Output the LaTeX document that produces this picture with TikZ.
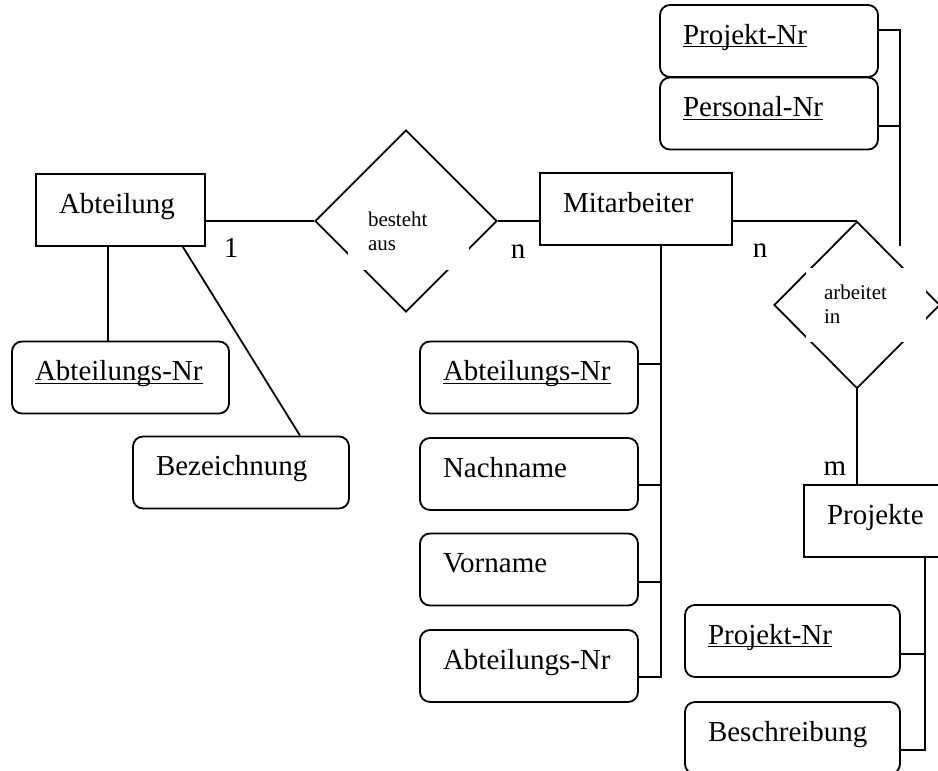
\documentclass[tikz,border=0pt]{standalone}
\usepackage{fontspec}
\setmainfont{Liberation Serif}
\usepackage{tikz}
\usetikzlibrary{shapes.geometric}

\newcommand{\schluessel}[1]{\underline{\smash{#1}}}

\begin{document}
\begin{tikzpicture}[x=0.5pt, y=-0.5pt, line width=0.9pt,
        entity/.style={draw, rectangle, inner xsep=11.5pt, inner ysep=0pt,
                       text height=19.5pt, text depth=16.5pt, align=left,
                       text width=#1, font=\fontsize{14.5}{17}\selectfont},
        attr/.style={entity=#1, rounded corners=5pt},
        rel/.style={draw, diamond, inner sep=0pt},
        rellabel/.style={fill=white, inner ysep=0pt, align=left,
                         font=\fontsize{10.5}{12}\selectfont},
        card/.style={anchor=base, font=\fontsize{14.5}{17}\selectfont}]
        \useasboundingbox (0,0) rectangle (938,771);

        \node [entity=61.5pt] (abt)   at (120.5,210)   {Abteilung};                     %
        \node [attr=85.5pt]   (abtnr) at (120.5,377.5) {\schluessel{Abteilungs-Nr}};    %
        \node [attr=85pt]     (bez)   at (241,472.5)   {Bezeichnung};                   %

        \node [rel, minimum width=91pt, minimum height=91pt] (besteht) at (406,221) {};
        \node [rellabel, text width=40.5pt, inner xsep=10pt, text height=13pt,
               text depth=22pt] (bestehtlbl) at (408.5,235) {besteht\\aus};

        \node [entity=73pt] (mit) at (636,209)   {Mitarbeiter};                         %
        \node [attr=86pt]   (ma1) at (529,377.5) {\schluessel{Abteilungs-Nr}};          %
        \node [attr=86pt]   (ma2) at (529,474)   {Nachname};                            %
        \node [attr=86pt]   (ma3) at (529,569.5) {Vorname};                             %
        \node [attr=86pt]   (ma4) at (529,666)   {Abteilungs-Nr};                       %

        \node [rel, minimum width=83pt, minimum height=83.5pt] (arb) at (857,305) {};
        \node [rellabel, text width=42pt, inner xsep=9pt, text height=15.5pt,
               text depth=21.5pt] (arblbl) at (866,305) {arbeitet\\in};
        \node [attr=86pt]   (pnr1) at (769,41)    {\schluessel{Projekt-Nr}};            %
        \node [attr=86pt]   (pers) at (769,113.5) {\schluessel{Personal-Nr}};           %

        \node [entity=73pt] (proj)  at (900,521)   {Projekte};                          %
        \node [attr=84.5pt] (pnr2)  at (792.5,641) {\schluessel{Projekt-Nr}};           %
        \node [attr=84.5pt] (besch) at (792.5,738) {Beschreibung};                      %

        % Abteilung
        \draw (besteht.west) -- (besteht.west -| abt.east);
        \draw ([xshift=-6.25pt]abt.south) -- ([xshift=-6.25pt]abt.south |- abtnr.north);
        \draw ([xshift=-11.5pt]abt.south east) -- ([xshift=29.5pt]bez.north);

        % Mitarbeiter
        \draw (besteht.east) -- (besteht.east -| mit.west);
        \draw (arb.north) -- (arb.north -| mit.east);
        \coordinate (mbus) at ([xshift=12.5pt]mit.south);
        \draw (mbus) |- ([yshift=-5.5pt]ma4.east);
        \draw ([yshift=6.75pt]ma1.east)  -- ([yshift=6.75pt]ma1.east -| mbus);
        \draw ([yshift=-5.5pt]ma2.east)  -- ([yshift=-5.5pt]ma2.east -| mbus);
        \draw ([yshift=-6.25pt]ma3.east) -- ([yshift=-6.25pt]ma3.east -| mbus);

        % arbeitet in
        \coordinate (arbtop) at (900,246);
        \draw ([yshift=5.5pt]pnr1.east) -| (arbtop);
        \draw ([yshift=-6.25pt]pers.east) -- ([yshift=-6.25pt]pers.east -| arbtop);
        \draw (arb.south) -- (arb.south |- proj.north);

        % Projekte
        \coordinate (pbus) at ([xshift=12.5pt]proj.south);
        \draw (pbus) |- ([yshift=-6pt]besch.east);
        \draw ([yshift=-6.5pt]pnr2.east) -- ([yshift=-6.5pt]pnr2.east -| pbus);

        \node [card] (c1) at (231,257) {1};
        \node [card] (c2) at (518,258) {n};
        \node [card] (c3) at (760,257) {n};
        \node [card] (c4) at (835,475) {m};
\end{tikzpicture}
\end{document}
